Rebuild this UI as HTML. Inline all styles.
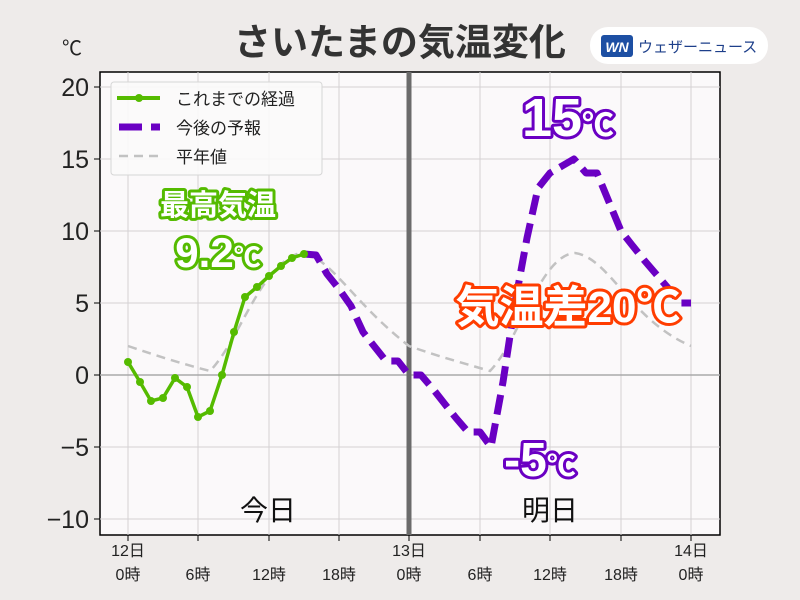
<!DOCTYPE html>
<html><head><meta charset="utf-8"><style>
body{margin:0;background:#eeebea;}
svg{display:block;font-family:"Liberation Sans","Noto Sans CJK JP",sans-serif;}
</style></head><body>
<svg width="800" height="600" viewBox="0 0 800 600" xmlns="http://www.w3.org/2000/svg">
<rect width="800" height="600" fill="#eeebea"/>
<rect x="100" y="72" width="620" height="463" fill="#fbf9fa" stroke="#000" stroke-width="1.5"/>
<g stroke="#d4d1d3" stroke-width="1">
<line x1="128" y1="72" x2="128" y2="535"/><line x1="198" y1="72" x2="198" y2="535"/><line x1="269" y1="72" x2="269" y2="535"/><line x1="339" y1="72" x2="339" y2="535"/><line x1="480" y1="72" x2="480" y2="535"/><line x1="550" y1="72" x2="550" y2="535"/><line x1="621" y1="72" x2="621" y2="535"/><line x1="691" y1="72" x2="691" y2="535"/>
<line x1="100" y1="87" x2="720" y2="87"/><line x1="100" y1="159" x2="720" y2="159"/><line x1="100" y1="231" x2="720" y2="231"/><line x1="100" y1="303" x2="720" y2="303"/><line x1="100" y1="447" x2="720" y2="447"/><line x1="100" y1="519" x2="720" y2="519"/>
</g>
<line x1="100" y1="375" x2="720" y2="375" stroke="#aaa" stroke-width="1.5"/>
<line x1="409" y1="72" x2="409" y2="535" stroke="#6b6b6b" stroke-width="5"/>
<g stroke="#000" stroke-width="1">
<line x1="128" y1="535" x2="128" y2="541"/><line x1="198" y1="535" x2="198" y2="541"/><line x1="269" y1="535" x2="269" y2="541"/><line x1="339" y1="535" x2="339" y2="541"/><line x1="409" y1="535" x2="409" y2="541"/><line x1="480" y1="535" x2="480" y2="541"/><line x1="550" y1="535" x2="550" y2="541"/><line x1="621" y1="535" x2="621" y2="541"/><line x1="691" y1="535" x2="691" y2="541"/>
<line x1="94" y1="87" x2="100" y2="87"/><line x1="94" y1="159" x2="100" y2="159"/><line x1="94" y1="231" x2="100" y2="231"/><line x1="94" y1="303" x2="100" y2="303"/><line x1="94" y1="375" x2="100" y2="375"/><line x1="94" y1="447" x2="100" y2="447"/><line x1="94" y1="519" x2="100" y2="519"/>
</g>
<g font-size="25" fill="#222" text-anchor="end">
<text x="89" y="96">20</text><text x="89" y="168">15</text><text x="89" y="240">10</text><text x="89" y="312">5</text><text x="89" y="384">0</text><text x="89" y="456">−5</text><text x="89" y="528">−10</text>
</g>
<text x="62" y="55" font-size="20" fill="#222">℃</text>
<g font-size="16" fill="#222" text-anchor="middle">
<text x="128" y="556">12日</text><text x="128" y="580">0時</text>
<text x="198" y="580">6時</text><text x="269" y="580">12時</text><text x="339" y="580">18時</text>
<text x="409" y="556">13日</text><text x="409" y="580">0時</text>
<text x="480" y="580">6時</text><text x="550" y="580">12時</text><text x="621" y="580">18時</text>
<text x="691" y="556">14日</text><text x="691" y="580">0時</text>
</g>
<path d="M128,346 C160,357 190,366 210,371 C240,340 260,265 300,253 C330,255 350,300 409,346 C440,357 470,365 490,371 C520,340 540,255 575,253 C610,258 630,320 691,346" fill="none" stroke="#c2c2c2" stroke-width="2.5" stroke-dasharray="9,6"/>
<polyline points="304,254 316,255 327,274 339,289 351,306 363,332 374,346 386,361 398,361 409,375 421,375 433,389 444,403 456,418 468,432 480,432 491,447 503,382 515,303 527,238 538,188 550,173 562,166 574,159 586,173 597,173 609,202 621,231 632,245 644,260 656,274 668,288 680,303 691,303" fill="none" stroke="#6a00c3" stroke-width="7" stroke-dasharray="20,9" stroke-linejoin="round"/>
<g fill="#55bb00" stroke="#55bb00">
<polyline points="128,362 140,382 151,401 163,398 175,378 187,387 198,417 210,411 222,375 234,332 245,297 257,287 269,276 281,266 292,258 304,254" fill="none" stroke-width="3.5"/>
<g stroke="none">
<circle cx="128" cy="362" r="4"/><circle cx="140" cy="382" r="4"/><circle cx="151" cy="401" r="4"/><circle cx="163" cy="398" r="4"/><circle cx="175" cy="378" r="4"/><circle cx="187" cy="387" r="4"/><circle cx="198" cy="417" r="4"/><circle cx="210" cy="411" r="4"/><circle cx="222" cy="375" r="4"/><circle cx="234" cy="332" r="4"/><circle cx="245" cy="297" r="4"/><circle cx="257" cy="287" r="4"/><circle cx="269" cy="276" r="4"/><circle cx="281" cy="266" r="4"/><circle cx="292" cy="258" r="4"/><circle cx="304" cy="254" r="4"/>
</g></g>
<rect x="111" y="82" width="211" height="93" rx="3" fill="#fbf9fa" fill-opacity="0.9" stroke="#d6d6d6"/>
<line x1="117" y1="98" x2="160" y2="98" stroke="#55bb00" stroke-width="4"/><circle cx="139" cy="98" r="4" fill="#55bb00"/>
<line x1="119" y1="127" x2="160" y2="127" stroke="#6a00c3" stroke-width="7" stroke-dasharray="23,9"/>
<line x1="119" y1="156" x2="160" y2="156" stroke="#c2c2c2" stroke-width="2.5" stroke-dasharray="9,6"/>
<g font-size="17" fill="#222"><text x="176" y="105">これまでの経過</text><text x="176" y="134">今後の予報</text><text x="176" y="163">平年値</text></g>
<g font-weight="bold" fill="#fff" stroke-linejoin="round" paint-order="stroke" text-anchor="middle">
<text x="218" y="215" font-size="29" stroke="#55bb00" stroke-width="6">最高気温</text>
<text x="218" y="267" font-size="42" stroke="#55bb00" stroke-width="6">9.2<tspan font-size="27">℃</tspan></text>
<text x="568" y="136" font-size="54" stroke="#6a00c3" stroke-width="6">15<tspan font-size="32">℃</tspan></text>
<text x="540" y="476" font-size="48" stroke="#6a00c3" stroke-width="6">-5<tspan font-size="29">℃</tspan></text>
<text x="568" y="322" font-size="44" stroke="#ff3d00" stroke-width="6">気温差20℃</text>
</g>
<g font-size="28" fill="#111" text-anchor="middle"><text x="268" y="520">今日</text><text x="550" y="520">明日</text></g>
<text x="400" y="55" font-size="37" font-weight="bold" fill="#333" text-anchor="middle">さいたまの気温変化</text>
<rect x="590" y="27" width="178" height="37" rx="18" fill="#fff"/>
<rect x="601" y="35" width="32" height="22" rx="3" fill="#1d4fa3"/>
<text x="617" y="52" font-size="14" font-weight="bold" font-style="italic" fill="#fff" text-anchor="middle">WN</text>
<text x="638" y="52" font-size="15" fill="#1d3f8a">ウェザーニュース</text>
</svg>
</body></html>
